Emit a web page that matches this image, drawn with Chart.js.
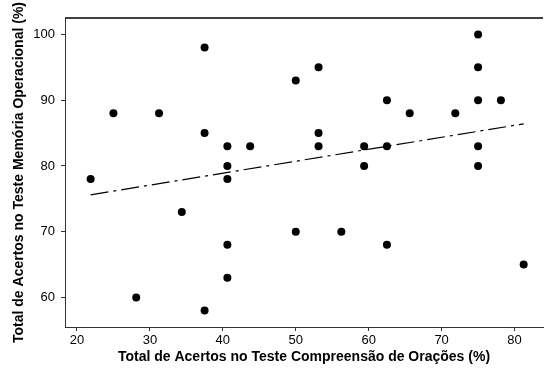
<!DOCTYPE html>
<html>
<head>
<meta charset="utf-8">
<script src="https://cdn.jsdelivr.net/npm/chart.js@4.4.1/dist/chart.umd.min.js"></script>
<style>
    html, body { margin: 0; padding: 0; background: #fff; }
    #wrap { width: 547px; height: 371px; }
</style>
</head>
<body>
<div id="wrap"><canvas id="scatterChart"></canvas></div>
<script>
// Sentence comprehension score (%) per participant
const comprehension = [
    21.875, 25, 28.125, 31.25, 34.375,
    37.5, 37.5, 37.5,
    40.625, 40.625, 40.625, 40.625, 40.625,
    43.75, 50, 50,
    53.125, 53.125, 53.125, 56.25,
    59.375, 59.375, 62.5, 62.5, 62.5,
    65.625, 71.875,
    75, 75, 75, 75, 75,
    78.125, 81.25
];

// Working memory score (%) for the same participants
const memory = [
    78, 88, 60, 88, 73,
    98, 85, 58,
    83, 80, 78, 68, 63,
    83, 93, 70,
    95, 85, 83, 70,
    83, 80, 90, 83, 68,
    88, 88,
    100, 95, 90, 83, 80,
    90, 65
];

// Fitted trend line end points
const fitX = [21.875, 81.25];
const fitY = [75.6, 86.4];

const xTicks = [20, 30, 40, 50, 60, 70, 80];
const yTicks = [60, 70, 80, 90, 100];

const axisColor = '#333';
const tickFont = { family: 'Liberation Sans', size: 13 };
const titleFont = { family: 'Liberation Sans', size: 14, weight: 'bold' };

// Top frame line above the plot area
const topFrame = {
    id: 'topFrame',
    afterDraw(chart) {
        const { ctx, chartArea } = chart;
        ctx.save();
        ctx.strokeStyle = '#000';
        ctx.lineWidth = 1.5;
        ctx.beginPath();
        ctx.moveTo(chartArea.left, chartArea.top);
        ctx.lineTo(chartArea.right, chartArea.top);
        ctx.stroke();
        ctx.restore();
    }
};

const ctx = document.getElementById('scatterChart');

new Chart(ctx, {
    type: 'scatter',
    data: {
        datasets: [
            {
                label: 'Participantes',
                data: comprehension.map((x, i) => ({ x: x, y: memory[i] })),
                backgroundColor: '#000',
                borderWidth: 0,
                pointRadius: 4,
                pointHoverRadius: 4
            },
            {
                type: 'line',
                label: 'Ajuste',
                data: fitX.map((x, i) => ({ x: x, y: fitY[i] })),
                borderColor: '#000',
                borderWidth: 1.2,
                borderDash: [18, 5, 3, 5],
                pointRadius: 0,
                fill: false
            }
        ]
    },
    options: {
        responsive: true,
        maintainAspectRatio: false,
        animation: false,
        layout: {
            padding: { top: 18, right: 1, left: 0, bottom: 0 }
        },
        plugins: {
            legend: { display: false },
            tooltip: { enabled: false }
        },
        scales: {
            x: {
                type: 'linear',
                min: 18.36,
                max: 83.9,
                afterFit: (scale) => { scale.height = 44; },
                afterBuildTicks: (scale) => { scale.ticks = xTicks.map(v => ({ value: v })); },
                border: { color: axisColor, width: 1 },
                grid: {
                    drawOnChartArea: false,
                    drawTicks: true,
                    tickLength: 4,
                    color: axisColor
                },
                ticks: {
                    color: '#000',
                    font: tickFont,
                    padding: 2,
                    maxRotation: 0
                },
                title: {
                    display: true,
                    text: 'Total de Acertos no Teste Compreensão de Orações (%)',
                    color: '#000',
                    font: titleFont,
                    padding: { top: 0, bottom: 5 }
                }
            },
            y: {
                type: 'linear',
                min: 55.5,
                max: 102.5,
                afterFit: (scale) => { scale.width = 65; },
                afterBuildTicks: (scale) => { scale.ticks = yTicks.map(v => ({ value: v })); },
                border: { color: axisColor, width: 1 },
                grid: {
                    drawOnChartArea: false,
                    drawTicks: true,
                    tickLength: 4,
                    color: axisColor
                },
                ticks: {
                    color: '#000',
                    font: tickFont,
                    padding: 6
                },
                title: {
                    display: true,
                    text: 'Total de Acertos no Teste Memória Operacional (%)',
                    color: '#000',
                    font: titleFont,
                    padding: { top: 11, bottom: 0 }
                }
            }
        }
    },
    plugins: [topFrame]
});
</script>
</body>
</html>
